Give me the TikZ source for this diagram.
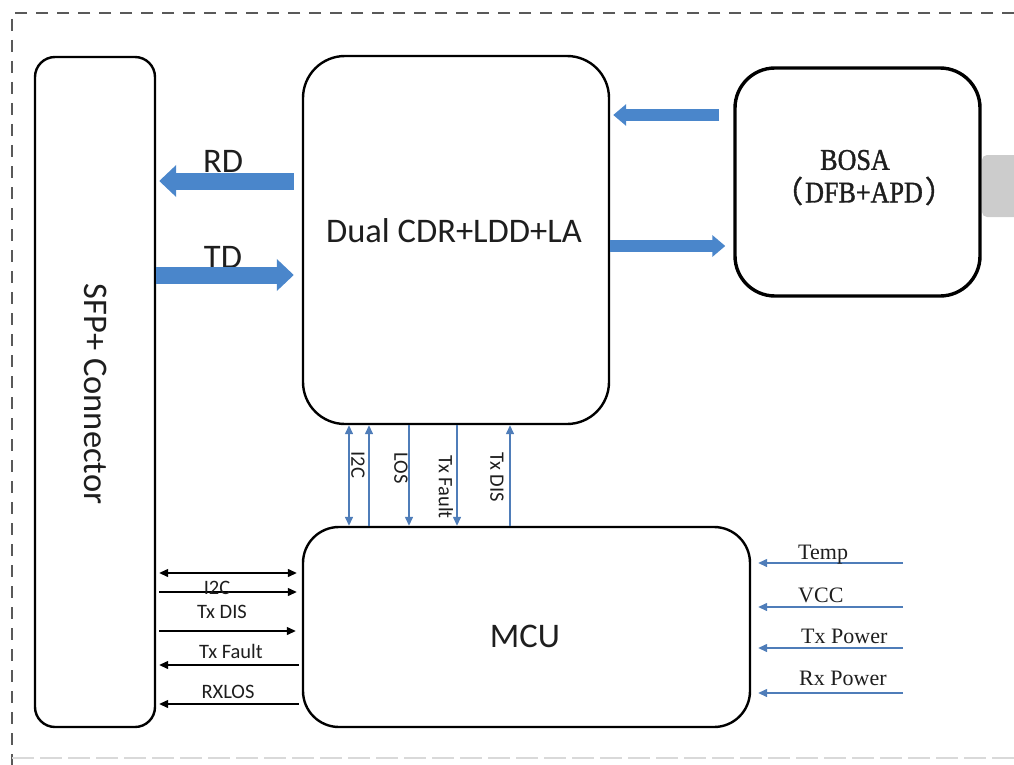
\documentclass[tikz,border=0pt]{standalone}
\usepackage{fontspec}
\setmainfont{Carlito}
\newfontfamily\seriffont{Liberation Serif}
\newfontfamily\bosafont[FakeStretch=0.87,FakeBold=1.2]{Liberation Serif}
\newfontfamily\cjk[FakeBold=1.2]{Noto Sans CJK SC}
\usetikzlibrary{arrows.meta,calc}
\definecolor{thickblue}{RGB}{74,134,203}
\definecolor{thinblue}{RGB}{79,125,185}
\definecolor{txt}{RGB}{30,30,30}
\begin{document}
\begin{tikzpicture}[x=1pt,y=-1pt,
  box/.style={draw=black,line width=2.4pt,fill=white,inner sep=0pt},
  bigfont/.style={font=\fontsize{34.5}{40}\selectfont,text=txt},
  smallfont/.style={font=\fontsize{20.5}{24}\selectfont,text=txt,inner sep=0pt},
  serlabel/.style={font=\seriffont\fontsize{22}{26}\selectfont,text=txt,inner sep=0pt,anchor=west},
  bosatext/.style={font=\bosafont\fontsize{30}{34}\selectfont,text=txt,inner sep=0pt},
  bigarrow/.style={draw=thickblue,line width=17pt,-{Triangle[length=17pt,width=31pt]}},
  medarrow/.style={draw=thickblue,line width=12pt,-{Triangle[length=13pt,width=21pt]}},
  bluewire/.style={draw=thinblue,line width=1.4pt},
  blackwire/.style={draw=black,line width=1.3pt},
  >={Triangle[length=9pt,width=8pt]}
]
\useasboundingbox (0,0) rectangle (1014,765);
% dashed frame
\coordinate (ftl) at (12,13);
\coordinate (ftr) at (1014,13);
\coordinate (fbl) at (12,765);
\coordinate (fbl2) at (12,758);
\coordinate (fbr) at (1014,758);
\draw[gray!70!black,line width=2pt,dash pattern=on 12pt off 9pt] (ftr) -- (ftl) -- (fbl);
\draw[gray!30,line width=2pt,dash pattern=on 22pt off 6pt] (fbl2) -- (fbr);

% boxes
\node[box,rounded corners=20pt,minimum width=120pt,minimum height=670pt] (sfp) at (95,392) {};
\node[bigfont,rotate=-90] (sfplabel) at (96,394) {SFP+ Connector};
\node[box,rounded corners=42pt,minimum width=306pt,minimum height=368pt] (cdr) at (456,240) {};
\node[bigfont,inner sep=0pt] (cdrlabel) at (454,231) {Dual CDR+LDD+LA};
\node[draw=none,fill=gray!40,rounded corners=5pt,minimum width=40pt,minimum height=62pt] (tab) at (1002,186) {};
\node[box,line width=3.4pt,rounded corners=40pt,minimum width=245pt,minimum height=228pt] (bosa) at (857.5,182) {};
\node[bosatext] (bosalabel) at (855,160) {BOSA};
\node[bosatext] (bosasub) at (864,191) {{\cjk\fontsize{30}{34}\selectfont （}\kern2pt DFB+APD\kern2pt{\cjk\fontsize{30}{34}\selectfont ）}};
\node[box,rounded corners=36pt,minimum width=447pt,minimum height=200pt] (mcu) at (526.5,627) {};
\node[bigfont,inner sep=0pt] (mculabel) at (525,636) {MCU};

% thick data arrows
\node[bigfont,inner sep=0pt] (rd) at (223,161) {RD};
\node[bigfont,inner sep=0pt] (td) at (223,257) {TD};
\draw[bigarrow] ($(cdr.west |- 0,181)+(-8,0)$) -- ($(sfp.east |- 0,181)+(3,0)$);
\draw[bigarrow] (sfp.east |- 0,275) -- ($(cdr.west |- 0,275)+(-8,0)$);
\draw[medarrow] ($(bosa.west |- 0,115)+(-14,0)$) -- ($(cdr.east |- 0,115)+(3,0)$);
\draw[medarrow] (cdr.east |- 0,246) -- ($(bosa.west |- 0,246)+(-8,0)$);

% CDR <-> MCU wires
\draw[bluewire,<->] (cdr.south -| 349,0) -- (mcu.north -| 349,0);
\draw[bluewire,<-] (cdr.south -| 369,0) -- (mcu.north -| 369,0);
\draw[bluewire,->] (cdr.south -| 409,0) -- (mcu.north -| 409,0);
\draw[bluewire,->] (cdr.south -| 457,0) -- (mcu.north -| 457,0);
\draw[bluewire,<-] (cdr.south -| 510,0) -- (mcu.north -| 510,0);
\node[smallfont,rotate=-90] (li2c) at (358,465) {I2C};
\node[smallfont,rotate=-90] (llos) at (401,468) {LOS};
\node[smallfont,rotate=-90] (ltxf) at (446,487) {Tx Fault};
\node[smallfont,rotate=-90] (ltxd) at (497,477) {Tx DIS};

% SFP <-> MCU wires
\draw[blackwire,<->,shorten <=3pt,shorten >=5pt] (sfp.east |- 0,573) -- (mcu.west |- 0,573);
\draw[blackwire,->,shorten <=3pt,shorten >=5pt] (sfp.east |- 0,592) -- (mcu.west |- 0,592);
\draw[blackwire,->,shorten <=3pt,shorten >=6pt] (sfp.east |- 0,631) -- (mcu.west |- 0,631);
\draw[blackwire,->,shorten <=3pt,shorten >=3pt] (mcu.west |- 0,665) -- (sfp.east |- 0,665);
\draw[blackwire,->,shorten <=3pt,shorten >=3pt] (mcu.west |- 0,704) -- (sfp.east |- 0,704);
\node[smallfont] (si2c) at (217,588) {I2C};
\node[smallfont] (stxd) at (222,612) {Tx DIS};
\node[smallfont] (stxf) at (231,651) {Tx Fault};
\node[smallfont] (srx) at (228,692) {RXLOS};

% sensor inputs
\coordinate (in1) at (903,563);
\coordinate (in2) at (903,607);
\coordinate (in3) at (903,648);
\coordinate (in4) at (903,693);
\draw[bluewire,->,shorten >=7pt] (in1) -- (mcu.east |- in1);
\draw[bluewire,->,shorten >=7pt] (in2) -- (mcu.east |- in2);
\draw[bluewire,->,shorten >=7pt] (in3) -- (mcu.east |- in3);
\draw[bluewire,->,shorten >=7pt] (in4) -- (mcu.east |- in4);
\node[serlabel] (ltemp) at (798,555) {Temp};
\node[serlabel] (lvcc) at (798,595) {VCC};
\node[serlabel] (ltxp) at (801,636) {Tx Power};
\node[serlabel] (lrxp) at (799,678) {Rx Power};
\end{tikzpicture}
\end{document}
